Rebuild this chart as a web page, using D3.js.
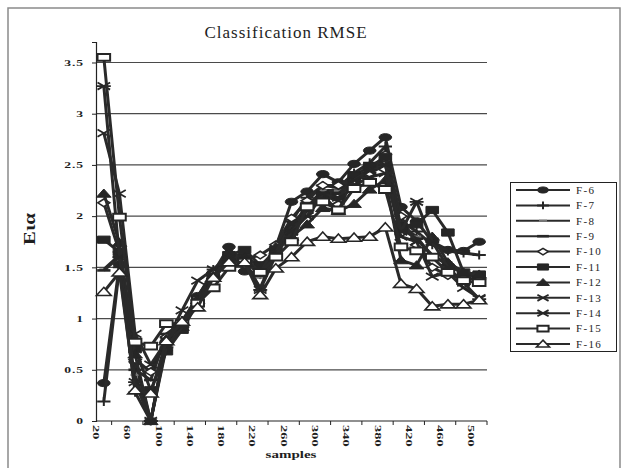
<!DOCTYPE html>
<html>
<head>
<meta charset="utf-8">
<script src="https://cdnjs.cloudflare.com/ajax/libs/d3/7.8.5/d3.min.js"></script>
<style>
body { margin: 0; background: #fff; }
text { font-family: "Liberation Serif", "Times New Roman", serif; fill: #1e1e1e; }
</style>
</head>
<body>
<svg id="chart" width="623" height="468"></svg>
<script>

const samples = [20, 40, 60, 80, 100, 120, 140, 160, 180, 200, 220, 240, 260, 280, 300, 320, 340, 360, 380, 400, 420, 440, 460, 480, 500]
const seriesNames = ['F-6', 'F-7', 'F-8', 'F-9', 'F-10', 'F-11', 'F-12', 'F-13', 'F-14', 'F-15', 'F-16']

const f6  = [0.37, 1.53, 0.58, 0.00, 0.78, 0.95, 1.22, 1.45, 1.70, 1.46, 1.45, 1.70, 2.14, 2.24, 2.41, 2.33, 2.51, 2.64, 2.77, 2.09, 1.95, 1.75, 1.67, 1.66, 1.75]
const f7  = [0.19, 1.50, 0.28, 0.00, 0.75, 0.98, 1.20, 1.48, 1.62, 1.62, 1.50, 1.68, 1.95, 2.18, 2.30, 2.28, 2.42, 2.52, 2.68, 1.95, 1.85, 1.72, 1.66, 1.64, 1.62]
const f8  = [1.48, 1.62, 0.45, 0.00, 0.80, 0.95, 1.20, 1.42, 1.58, 1.60, 1.40, 1.66, 1.90, 2.10, 2.25, 2.25, 2.38, 2.45, 2.55, 1.90, 1.80, 1.60, 1.55, 1.45, 1.42]
const f9  = [1.47, 1.60, 0.50, 0.40, 0.85, 0.96, 1.22, 1.40, 1.58, 1.58, 1.42, 1.64, 1.88, 2.05, 2.22, 2.22, 2.35, 2.42, 2.50, 1.88, 1.78, 1.62, 1.52, 1.44, 1.40]
const f10 = [2.13, 1.65, 0.60, 0.48, 0.82, 0.95, 1.18, 1.45, 1.60, 1.58, 1.62, 1.72, 1.98, 2.15, 2.30, 2.30, 2.35, 2.40, 2.60, 2.00, 1.72, 1.50, 1.42, 1.40, 1.38]
const f11 = [1.77, 1.65, 0.70, 0.30, 0.68, 0.89, 1.15, 1.40, 1.62, 1.67, 1.52, 1.65, 1.85, 2.10, 2.20, 2.05, 2.40, 2.48, 2.58, 1.90, 1.92, 2.06, 1.84, 1.45, 1.43]
const f12 = [2.22, 1.74, 0.65, 0.00, 0.80, 0.92, 1.18, 1.42, 1.60, 1.60, 1.45, 1.70, 1.80, 1.92, 2.08, 2.05, 2.12, 2.26, 2.35, 1.57, 1.52, 1.80, 1.55, 1.45, 1.43]
const f13 = [2.81, 2.22, 0.85, 0.55, 0.78, 1.08, 1.37, 1.48, 1.58, 1.55, 1.30, 1.65, 1.92, 2.00, 2.20, 2.15, 2.30, 2.38, 2.42, 1.80, 1.75, 1.41, 1.45, 1.30, 1.20]
const f14 = [3.27, 1.60, 0.38, 0.00, 0.72, 0.92, 1.15, 1.42, 1.58, 1.58, 1.28, 1.62, 1.85, 2.00, 2.22, 2.18, 2.35, 2.45, 2.50, 1.85, 2.14, 1.75, 1.50, 1.35, 1.19]
const f15 = [3.55, 1.99, 0.77, 0.73, 0.95, 0.95, 1.15, 1.30, 1.50, 1.55, 1.45, 1.60, 1.75, 2.09, 2.14, 2.06, 2.27, 2.33, 2.26, 1.70, 1.66, 1.60, 1.45, 1.37, 1.35]
const f16 = [1.26, 1.45, 0.30, 0.27, 0.78, 0.97, 1.11, 1.40, 1.55, 1.55, 1.23, 1.49, 1.60, 1.75, 1.80, 1.78, 1.79, 1.80, 1.89, 1.34, 1.29, 1.12, 1.14, 1.14, 1.18]

const yTicks = [0, 0.5, 1, 1.5, 2, 2.5, 3, 3.5]

const seriesValues = [f6, f7, f8, f9, f10, f11, f12, f13, f14, f15, f16]

// marker shapes, drawn in a small box and then stretched sideways
const markers = [
	{d: 'M-3.6,0A3.6,3.6 0 1,0 3.6,0A3.6,3.6 0 1,0 -3.6,0Z', fill: '#262626', sw: 1},
	{d: 'M-3.8,0H3.8M0,-4.5V4.5', fill: 'none', sw: 2},
	{d: 'M-2.6,0H2.6', fill: 'none', sw: 2.2, stroke: '#777'},
	{d: 'M-3.8,0H3.8', fill: 'none', sw: 2.6},
	{d: 'M0,-3.8L3.4,0L0,3.8L-3.4,0Z', fill: '#fff', sw: 1.6},
	{d: 'M-3.6,-3.6H3.6V3.6H-3.6Z', fill: '#262626', sw: 1},
	{d: 'M0,-4.6L4.2,3.6H-4.2Z', fill: '#262626', sw: 1},
	{d: 'M-3.6,-3.6L3.6,3.6M-3.6,3.6L3.6,-3.6', fill: 'none', sw: 1.8},
	{d: 'M-3.6,-3.6L3.6,3.6M-3.6,3.6L3.6,-3.6M-4,0H4', fill: 'none', sw: 1.8},
	{d: 'M-3.6,-3.4H3.6V3.4H-3.6Z', fill: '#fff', sw: 2},
	{d: 'M0,-4.6L4.2,3.6H-4.2Z', fill: '#fff', sw: 1.6}
]

const margin = {top: 42, right: 138, bottom: 47, left: 96}
const width = 623, height = 468

const svg = d3.select('#chart')

// outer frame
svg.append('rect')
	.attr('x', 8).attr('y', 8)
	.attr('width', 612).attr('height', 480)
	.attr('fill', 'none').attr('stroke', '#8a8a8a').attr('stroke-width', 1.5)

const x = d3.scaleBand()
	.domain(samples)
	.range([margin.left, width - margin.right + 2])
	.padding(0)

const y = d3.scaleLinear()
	.domain([0, 3.7])
	.range([height - margin.bottom, margin.top])

// gridlines
svg.append('g')
	.selectAll('line')
	.data(yTicks.filter(d => d > 0))
	.join('line')
		.attr('x1', margin.left).attr('x2', x.range()[1])
		.attr('y1', d => y(d)).attr('y2', d => y(d))
		.attr('stroke', '#4a4a4a').attr('stroke-width', 1.2)

// y axis
const yAxis = svg.append('g')
	.attr('transform', 'translate(' + margin.left + ',0)')
	.call(d3.axisLeft(y).tickValues(yTicks).tickSize(4).tickFormat(d => d))
yAxis.select('.domain').attr('stroke', '#222').attr('stroke-width', 1.2)
yAxis.selectAll('.tick line').attr('stroke', '#222')
yAxis.selectAll('.tick text')
	.attr('x', 0).attr('dy', '0.32em')
	.attr('font-family', null).attr('font-size', 8.5).attr('font-weight', 'bold')
	.attr('text-anchor', 'end')
	.attr('transform', 'translate(-12,0) scale(1.6,1)')
	.style('letter-spacing', '0.6px')

// x axis
const xAxis = svg.append('g')
	.attr('transform', 'translate(0,' + y(0) + ')')
xAxis.append('line')
	.attr('x1', margin.left).attr('x2', x.range()[1])
	.attr('stroke', '#222').attr('stroke-width', 1.2)
xAxis.selectAll('line.tk')
	.data(samples.filter((d, i) => i % 2 === 1).concat([null]))
	.join('line')
		.attr('class', 'tk')
		.attr('x1', d => d === null ? x.range()[1] : x(d))
		.attr('x2', d => d === null ? x.range()[1] : x(d))
		.attr('y1', 0).attr('y2', 4)
		.attr('stroke', '#222')
xAxis.selectAll('text')
	.data(samples.filter((d, i) => i % 2 === 0))
	.join('text')
		.attr('transform', d => 'translate(' + (x(d) - 3) + ',4) rotate(90) scale(1.7,1)')
		.attr('font-size', 8.5).attr('font-weight', 'bold')
		.text(d => d)

// lines and markers
const line = d3.line()
	.x((d, i) => x(samples[i]) + x.bandwidth() / 2)
	.y(d => y(d))

seriesValues.forEach((vals, k) => {
	const g = svg.append('g')
	g.append('path')
		.datum(vals)
		.attr('d', line)
		.attr('fill', 'none')
		.attr('stroke', '#2a2a2a')
		.attr('stroke-width', 3)
		.attr('stroke-linejoin', 'round')

	g.selectAll('path.mk')
		.data(vals)
		.join('path')
			.attr('class', 'mk')
			.attr('d', markers[k].d)
			.attr('transform', (d, i) => 'translate(' + (x(samples[i]) + x.bandwidth() / 2) + ',' + y(d) + ') scale(1.75,1)')
			.attr('fill', markers[k].fill)
			.attr('stroke', markers[k].stroke || '#262626')
			.attr('stroke-width', markers[k].sw)
			.attr('vector-effect', 'non-scaling-stroke')
})

// title and axis labels
svg.append('text')
	.attr('x', 286).attr('y', 38)
	.attr('text-anchor', 'middle')
	.attr('font-size', 17)
	.style('letter-spacing', '1px')
	.text('Classification RMSE')

svg.append('text')
	.attr('transform', 'translate(291,458) scale(1.5,1)')
	.attr('text-anchor', 'middle')
	.attr('font-size', 10).attr('font-weight', 'bold')
	.text('samples')

svg.append('text')
	.attr('transform', 'translate(35,229) rotate(-90) scale(1.3,1)')
	.attr('text-anchor', 'middle')
	.attr('font-size', 16).attr('font-weight', 'bold')
	.text('Eια')

// legend
const legend = svg.append('g')
legend.append('rect')
	.attr('x', 510.5).attr('y', 182.5)
	.attr('width', 106).attr('height', 169)
	.attr('fill', '#fff').attr('stroke', '#222').attr('stroke-width', 1)

const item = legend.selectAll('g.item')
	.data(seriesNames)
	.join('g')
		.attr('class', 'item')
		.attr('transform', (d, i) => 'translate(0,' + (190 + i * 15.4) + ')')

item.append('line')
	.attr('x1', 516).attr('x2', 570)
	.attr('stroke', '#2a2a2a').attr('stroke-width', 2)
item.append('path')
	.attr('d', (d, i) => markers[i].d)
	.attr('transform', 'translate(543,0) scale(1.55,0.85)')
	.attr('fill', (d, i) => markers[i].fill)
	.attr('stroke', (d, i) => markers[i].stroke || '#262626')
	.attr('stroke-width', (d, i) => markers[i].sw)
	.attr('vector-effect', 'non-scaling-stroke')
item.append('text')
	.attr('x', 576).attr('dy', '0.35em')
	.attr('font-size', 11)
	.style('letter-spacing', '1.3px')
	.text(d => d)

</script>
</body>
</html>
